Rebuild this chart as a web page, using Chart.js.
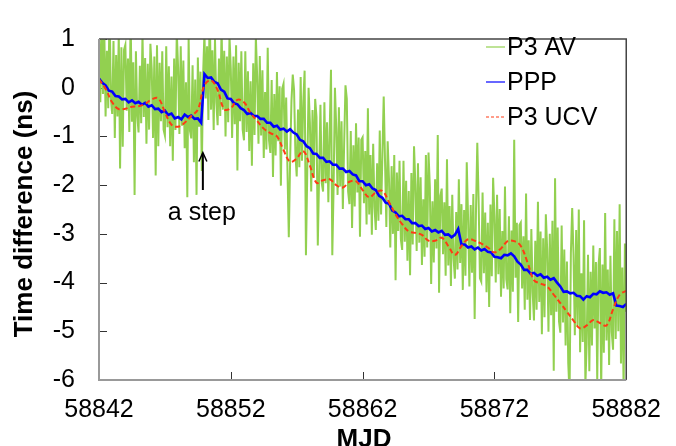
<!DOCTYPE html>
<html>
<head>
<meta charset="utf-8">
<script src="https://cdn.jsdelivr.net/npm/chart.js@4.4.0/dist/chart.umd.min.js"></script>
<style>
html,body{margin:0;padding:0;background:#fff;}
</style>
</head>
<body>
<canvas id="c" width="676" height="446"></canvas>
<script>
/* Time difference: P3 AV vs PPP vs P3 UCV */

const X_MIN = 58842, X_MAX = 58882, X_STEP = 10;
const Y_MIN = -6, Y_MAX = 1;
const FONT = "'Liberation Sans', Arial, sans-serif";

const seriesNames = ["P3 AV", "PPP", "P3 UCV"];

// P3 AV, every 0.1 d from 58842 (one row per day)
const avStep = 0.1;
const avValues = [
  1.07,-0.3,1.5,-0.13,1.21,-0.59,0.76,-0.42,1.67,-0.23,
  -0.54,0.96,-1.03,0.67,-0.59,1.12,-1.66,0.83,-1.21,0.78,
  0.88,-0.47,0.6,-0.91,1.48,-0.7,0.52,-2.2,0.75,-0.55,
  -0.92,0.45,-0.73,1.12,-0.6,0.61,-1.15,0.49,-0.86,0.9,
  0.38,-1.03,0.64,-1.8,0.87,-1.2,0.51,-0.69,0.75,-0.86,
  -0.98,0.85,-0.81,0.44,-1.2,0.23,-1.5,0.6,-0.87,1.15,
  0.42,-0.95,0.85,-0.78,0.56,-1.24,0.11,-2.25,1.02,-0.88,
  -1.04,0.46,-1.53,0.17,-2.2,0.62,-0.8,0.33,-1.71,0.28,
  1.13,-0.22,0.85,-0.66,1.73,-0.45,0.77,-0.87,1.0,-0.3,
  -0.77,0.6,-0.58,1.27,-0.45,0.76,-1.0,0.64,-0.71,1.05,
  0.38,-1.03,0.64,-0.75,0.87,-1.7,0.51,-0.69,0.75,-0.86,
  -1.08,0.75,-0.91,0.34,-1.3,0.13,-1.6,0.5,-0.97,1.05,
  0.22,-1.15,0.65,-0.98,0.36,-1.44,-0.09,-1.27,0.82,-1.08,
  -1.34,0.16,-1.83,-0.13,-1.39,0.32,-1.1,0.03,-2.01,-0.02,
  0.08,-1.27,-0.2,-1.71,-3.07,-1.5,-0.28,0.27,-0.05,-1.35,
  -1.82,-0.45,-1.63,0.22,-1.5,-0.29,0.35,-3.44,-1.76,0.0,
  -0.72,-2.13,-0.46,-1.85,-0.23,-0.6,-3.24,-1.79,-0.35,-1.96,
  -2.13,-0.3,-1.96,-0.71,-2.35,-0.92,0.37,-3.44,-2.02,0.0,
  -0.83,-2.2,-0.4,-2.03,-0.69,-2.49,-1.14,0.05,-0.23,-2.13,
  -2.39,-0.89,-2.88,-1.18,-2.44,-0.73,-2.15,-1.02,-3.06,-1.07,
  -1.02,-2.37,-1.3,-2.81,-0.42,-2.6,-1.38,-3.02,-1.15,-2.45,
  -2.92,-1.55,-2.73,-0.88,-2.6,-1.39,-0.18,-1.51,-2.86,-1.1,
  -1.87,-3.28,-1.61,-3.0,-1.38,-3.95,-1.74,-2.94,-1.5,-3.11,
  -3.33,-1.5,-3.16,-1.91,-3.55,-2.12,-3.85,-1.75,-3.22,-1.2,
  -1.98,-3.35,-1.55,-3.18,-1.84,-3.64,-2.29,-3.47,-1.38,-3.28,
  -1.33,-2.04,-4.03,-2.33,-3.59,-1.88,-3.3,-0.97,-4.21,-2.22,
  -2.07,-3.42,-2.35,-3.86,-1.47,-3.65,-2.43,-4.07,-2.2,-3.5,
  -3.92,-2.55,-3.73,-1.88,-3.6,-2.39,-4.15,-2.51,-3.86,-1.53,
  -2.67,-4.08,-2.41,-3.8,-2.18,-4.75,-2.54,-1.13,-2.3,-3.91,
  -3.98,-2.15,-3.81,-2.56,-4.2,-2.77,-4.5,-2.4,-3.87,-1.85,
  -2.63,-4.0,-2.2,-3.83,-2.49,-4.29,-2.94,-4.12,-2.03,-3.93,
  -4.14,-2.64,-4.63,-2.93,-4.19,-1.07,-3.9,-2.77,-4.81,-2.82,
  -2.77,-4.12,-3.05,-4.56,-2.17,-4.35,-3.13,-4.77,-2.9,-4.2,
  -4.78,-3.14,-4.56,-2.34,-4.4,-2.95,-5.06,-3.09,-4.71,-2.6,
  -3.31,-5.01,-3.0,-4.67,-2.73,-5.81,-1.86,-4.6,-2.87,-4.8,
  -5.03,-2.83,-4.82,-3.32,-5.29,-3.57,-5.65,-6.3,-3.4,-2.47,
  -3.44,-5.08,-2.92,-4.88,-2.5,-5.43,-3.81,-5.22,-2.72,-6.1,
  -5.23,-3.43,-5.82,-3.78,-5.29,-3.24,-4.94,-3.58,-6.03,-3.64,
  -3.29,-6.2,-3.63,-5.44,-2.57,-5.19,-3.73,-5.69,-3.45,-5.01,
  -5.38,-2.7,-5.16,-2.94,-5.0,-2.39,-5.66,-3.69,-6.2,-3.2,
  -4.6
];

// PPP, every 0.25 d from 58842
const pppStep = 0.25;
const pppValues = [
  0.19,0.1,0.05,-0.06,-0.08,-0.17,-0.18,-0.24,
  -0.23,-0.3,-0.26,-0.32,-0.29,-0.35,-0.31,-0.39,
  -0.36,-0.44,-0.43,-0.5,-0.47,-0.56,-0.53,-0.63,
  -0.6,-0.65,-0.55,-0.6,-0.57,-0.64,-0.63,-0.72,
  0.28,0.2,0.21,0.12,0.09,-0.04,-0.08,-0.22,
  -0.23,-0.32,-0.34,-0.42,-0.46,-0.54,-0.52,-0.58,
  -0.58,-0.64,-0.64,-0.72,-0.72,-0.8,-0.78,-0.86,
  -0.84,-0.9,-0.85,-0.92,-0.96,-1.07,-1.1,-1.2,
  -1.24,-1.35,-1.36,-1.44,-1.44,-1.52,-1.51,-1.58,
  -1.58,-1.66,-1.66,-1.73,-1.71,-1.78,-1.8,-1.92,
  -1.92,-2.0,-1.98,-2.07,-2.1,-2.22,-2.26,-2.36,
  -2.38,-2.52,-2.56,-2.64,-2.63,-2.7,-2.7,-2.78,
  -2.78,-2.84,-2.83,-2.9,-2.88,-2.95,-2.92,-2.97,
  -2.94,-3.02,-3.01,-3.07,-3.02,-2.9,-3.22,-3.22,
  -3.28,-3.26,-3.32,-3.28,-3.34,-3.31,-3.37,-3.38,
  -3.47,-3.48,-3.5,-3.43,-3.44,-3.4,-3.46,-3.57,
  -3.63,-3.74,-3.74,-3.82,-3.8,-3.86,-3.83,-3.9,
  -3.88,-3.94,-3.91,-4.0,-4.08,-4.19,-4.18,-4.22,
  -4.21,-4.27,-4.28,-4.35,-4.28,-4.3,-4.23,-4.24,
  -4.18,-4.21,-4.2,-4.25,-4.22,-4.47,-4.48,-4.5,
  -4.44
];

// P3 UCV, every 0.5 d from 58842
const ucvStep = 0.5;
const ucvValues = [
  0.17,-0.02,-0.3,-0.44,-0.43,-0.39,-0.38,-0.33,-0.24,-0.22,
  -0.5,-0.76,-0.8,-0.72,-0.58,-0.45,0.05,0.15,-0.05,-0.44,
  -0.42,-0.25,-0.3,-0.52,-0.68,-0.84,-0.93,-1.0,-1.28,-1.52,
  -1.45,-1.3,-1.6,-1.95,-1.9,-1.88,-2.0,-2.05,-1.93,-1.92,
  -2.1,-2.25,-2.15,-2.12,-2.35,-2.6,-2.8,-2.95,-2.98,-3.02,
  -3.14,-3.14,-3.08,-3.25,-3.43,-3.25,-3.11,-3.14,-3.2,-3.28,
  -3.38,-3.3,-3.15,-3.15,-3.25,-3.58,-3.95,-4.02,-4.08,-4.25,
  -4.42,-4.6,-4.78,-4.94,-4.88,-4.77,-4.83,-4.88,-4.55,-4.25,
  -4.17
];

// "a step" annotation (MJD, ns)
const stepMJD = 58849.88, stepTip = -1.33, stepTail = -2.1, stepTextY = -2.71;

function pts(step, ys){ return ys.map((y,i)=>({x: X_MIN + i*step, y})); }

// ── Decorations: inward ticks, frame, legend, titles, arrow ─────────────────
const decor = {
  id: "decor",
  beforeDatasetsDraw(chart){
    const {ctx, chartArea:a, scales:{x, y}} = chart;
    ctx.save();
    ctx.strokeStyle = "#333"; ctx.lineWidth = 1;
    ctx.beginPath();
    y.ticks.forEach(t=>{ const p = Math.round(y.getPixelForValue(t.value))+0.5;
      ctx.moveTo(a.left, p); ctx.lineTo(a.left+8, p); });
    x.ticks.forEach(t=>{ const p = Math.round(x.getPixelForValue(t.value))+0.5;
      ctx.moveTo(p, a.bottom); ctx.lineTo(p, a.bottom-8); });
    ctx.stroke();
    ctx.restore();
  },
  afterDatasetsDraw(chart){
    const {ctx, chartArea:a, scales:{x, y}} = chart;
    ctx.save();
    // frame
    ctx.lineWidth = 1.5; ctx.strokeStyle = "#444";
    ctx.beginPath(); ctx.moveTo(a.left, a.top); ctx.lineTo(a.right, a.top); ctx.lineTo(a.right, a.bottom); ctx.stroke();
    ctx.lineWidth = 2; ctx.strokeStyle = "#999";
    ctx.beginPath(); ctx.moveTo(a.left, a.top); ctx.lineTo(a.left, a.bottom); ctx.lineTo(a.right, a.bottom); ctx.stroke();

    // legend
    ctx.font = "25px " + FONT; ctx.textBaseline = "middle"; ctx.textAlign = "left"; ctx.fillStyle = "#000";
    chart.data.datasets.forEach((ds,i)=>{
      const ly = 47 + i*35;
      ctx.strokeStyle = ds.borderColor; ctx.lineWidth = 1.2;
      ctx.setLineDash(ds.borderDash ? [3,2] : []);
      ctx.beginPath(); ctx.moveTo(486, ly); ctx.lineTo(505, ly); ctx.stroke();
      ctx.setLineDash([]);
      ctx.fillText(ds.label, 507, ly+1);
    });

    // arrow + "a step"
    const ax = x.getPixelForValue(stepMJD), ty = y.getPixelForValue(stepTip), by = y.getPixelForValue(stepTail);
    ctx.strokeStyle = "#000"; ctx.lineWidth = 2;
    ctx.beginPath(); ctx.moveTo(ax, by); ctx.lineTo(ax, ty+1); ctx.stroke();
    ctx.lineWidth = 1.5;
    ctx.beginPath(); ctx.moveTo(ax-4, ty+9); ctx.lineTo(ax, ty); ctx.lineTo(ax+4, ty+9); ctx.stroke();
    ctx.textAlign = "center"; ctx.textBaseline = "alphabetic";
    ctx.fillText("a step", ax-1, y.getPixelForValue(stepTextY));

    // axis titles
    ctx.font = "bold 26px " + FONT;
    ctx.fillText("MJD", 364, 446.5);
    ctx.translate(25, 214); ctx.rotate(-Math.PI/2);
    ctx.textBaseline = "middle";
    ctx.fillText("Time difference (ns)", 0, 0);
    ctx.restore();
  }
};

Chart.defaults.font.family = FONT;
Chart.defaults.color = "#000";

new Chart(document.getElementById("c"), {
  type: "line",
  data: {
    datasets: [
      {label: seriesNames[0], data: pts(avStep, avValues), borderColor: "#92D050",
       borderWidth: 2, pointRadius: 0, tension: 0, order: 3},
      {label: seriesNames[1], data: pts(pppStep, pppValues), borderColor: "#0000FF",
       borderWidth: 2.6, pointRadius: 0, tension: 0, order: 2},
      {label: seriesNames[2], data: pts(ucvStep, ucvValues), borderColor: "#FF3B14",
       borderWidth: 2, borderDash: [5,3], pointRadius: 0, tension: 0.4, order: 1},
    ]
  },
  options: {
    responsive: false, animation: false, devicePixelRatio: 1,
    layout: {padding: {top: 25, right: 39, left: 0, bottom: 0}},
    plugins: {legend: {display: false}, tooltip: {enabled: false}},
    scales: {
      x: {type: "linear", min: X_MIN, max: X_MAX,
          grid: {display: false, drawTicks: false}, border: {display: false},
          ticks: {stepSize: X_STEP, padding: 15, font: {size: 25}, callback: v => String(v)},
          afterFit: s => { s.height = 66; }},
      y: {min: Y_MIN, max: Y_MAX,
          grid: {display: false, drawTicks: false}, border: {display: false},
          ticks: {stepSize: 1, padding: 24, font: {size: 25}, callback: v => String(v)},
          afterFit: s => { s.width = 99; }}
    }
  },
  plugins: [decor]
});
</script>
</body>
</html>
